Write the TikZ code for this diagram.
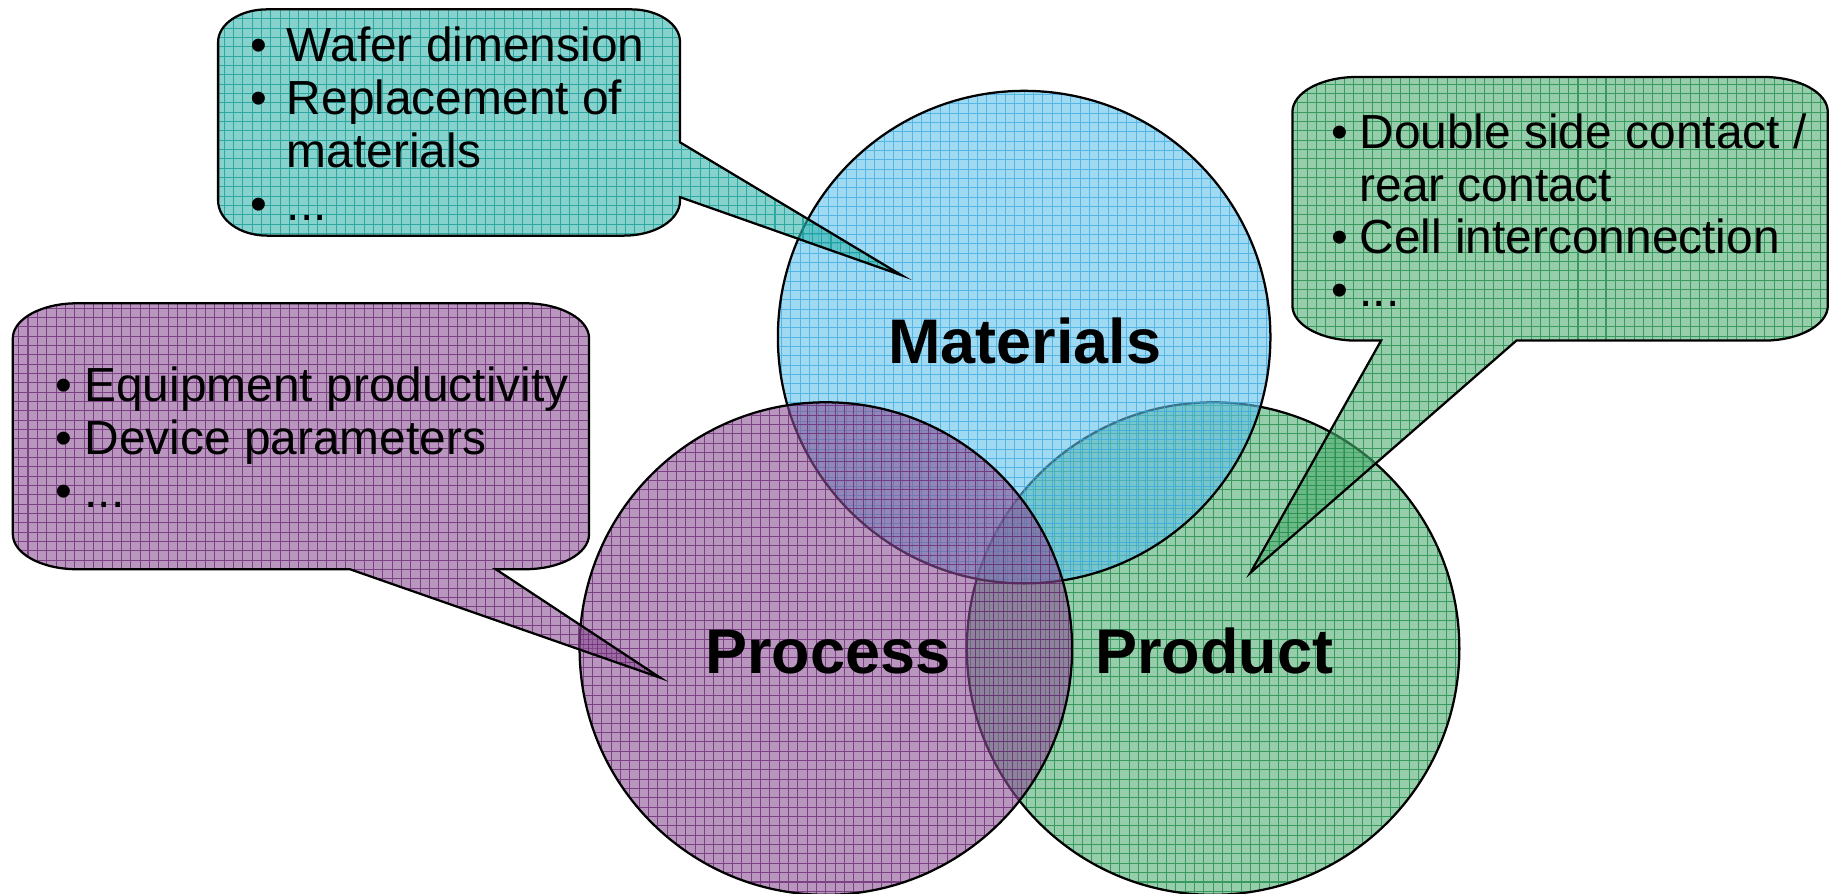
\documentclass[tikz,border=0pt]{standalone}
\usepackage{fontspec}
\setmainfont{Liberation Sans}
\definecolor{matF}{RGB}{97,193,233}
\definecolor{matL}{RGB}{53,167,226}
\definecolor{proF}{RGB}{138,80,147}
\definecolor{proL}{RGB}{99,30,110}
\definecolor{prdF}{RGB}{80,172,113}
\definecolor{prdL}{RGB}{17,132,63}
\definecolor{tealF}{RGB}{55,180,172}
\definecolor{tealL}{RGB}{8,150,145}
\begin{document}
\begin{tikzpicture}[x=0.01cm,y=0.01cm,
  outline/.style={draw=black, line width=0.55pt},
  gridfill/.style 2 args={fill=#1, fill opacity=.6,
    path picture={\draw[#2, draw opacity=.7, line width=0.25pt, step=0.08cm]
      (path picture bounding box.south west) grid (path picture bounding box.north east);}},
  venn/.style={circle, minimum size=4.22cm, inner sep=0pt, outline},
  biglabel/.style={font=\fontsize{15.36}{18}\selectfont\bfseries, inner sep=0pt, anchor=base},
  itemtext/.style={font=\fontsize{11.67}{12.9}\selectfont, inner sep=0pt, anchor=base west, align=left},
]
\useasboundingbox (0,0) rectangle (1568,-766);

% Venn circles (bottom to top)
\node[venn, gridfill={prdF}{prdL}] (product) at (1040,-556) {};
\node[venn, gridfill={matF}{matL}] (materials) at (878,-289) {};
\node[venn, gridfill={proF}{proL}] (process) at (708,-556) {};

% Callouts
\draw[outline, gridfill={tealF}{tealL}]
  (229,-8) -- (541,-8) arc[start angle=90,end angle=0,x radius=42,y radius=28]
  -- (583,-122) -- (773,-236) -- (583,-169) -- (583,-172)
  arc[start angle=0,end angle=-90,x radius=48,y radius=30]
  -- (229,-202) arc[start angle=270,end angle=180,x radius=42,y radius=30]
  -- (187,-36) arc[start angle=180,end angle=90,x radius=42,y radius=28] -- cycle;

\draw[outline, gridfill={proF}{proL}]
  (66,-260) -- (450,-260) arc[start angle=90,end angle=0,x radius=55,y radius=30]
  -- (505,-458) arc[start angle=0,end angle=-90,x radius=55,y radius=30]
  -- (425,-488) -- (566,-581) -- (300,-488)
  -- (66,-488) arc[start angle=270,end angle=180,x radius=55,y radius=30]
  -- (11,-290) arc[start angle=180,end angle=90,x radius=55,y radius=30] -- cycle;

\draw[outline, gridfill={prdF}{prdL}]
  (1163,-66) -- (1512,-66) arc[start angle=90,end angle=0,x radius=55,y radius=30]
  -- (1567,-262) arc[start angle=0,end angle=-90,x radius=55,y radius=30]
  -- (1300,-292) -- (1072,-491) -- (1184,-292)
  -- (1163,-292) arc[start angle=270,end angle=180,x radius=55,y radius=30]
  -- (1108,-96) arc[start angle=180,end angle=90,x radius=55,y radius=30] -- cycle;

% Labels
\node[biglabel] (matlabel) at (878.5,-311.7) {Materials};
\node[biglabel] (prolabel) at (709.7,-577) {Process};
\node[biglabel] (prdlabel) at (1041,-577) {Product};

% Callout texts
\node[itemtext] (tealtext) at (214.3,-52.9)
  {\begin{tabular}[t]{@{}l@{}l@{}}\makebox[0.31cm][l]{•}&Wafer dimension\\
   \makebox[0.31cm][l]{•}&Replacement of\\ &materials\\ \makebox[0.31cm][l]{•}&...\end{tabular}};
\node[itemtext] (protext) at (46.5,-344.3)
  {\begin{tabular}[t]{@{}l@{}l@{}}\makebox[0.252cm][l]{•}&Equipment productivity\\
   \makebox[0.252cm][l]{•}&Device parameters\\ \makebox[0.252cm][l]{•}&...\end{tabular}};
\node[itemtext] (prdtext) at (1140.8,-127)
  {\begin{tabular}[t]{@{}l@{}l@{}}\makebox[0.24cm][l]{•}&Double side contact /\\
   &rear contact\\ \makebox[0.24cm][l]{•}&Cell interconnection\\ \makebox[0.24cm][l]{•}&...\end{tabular}};
\end{tikzpicture}
\end{document}
